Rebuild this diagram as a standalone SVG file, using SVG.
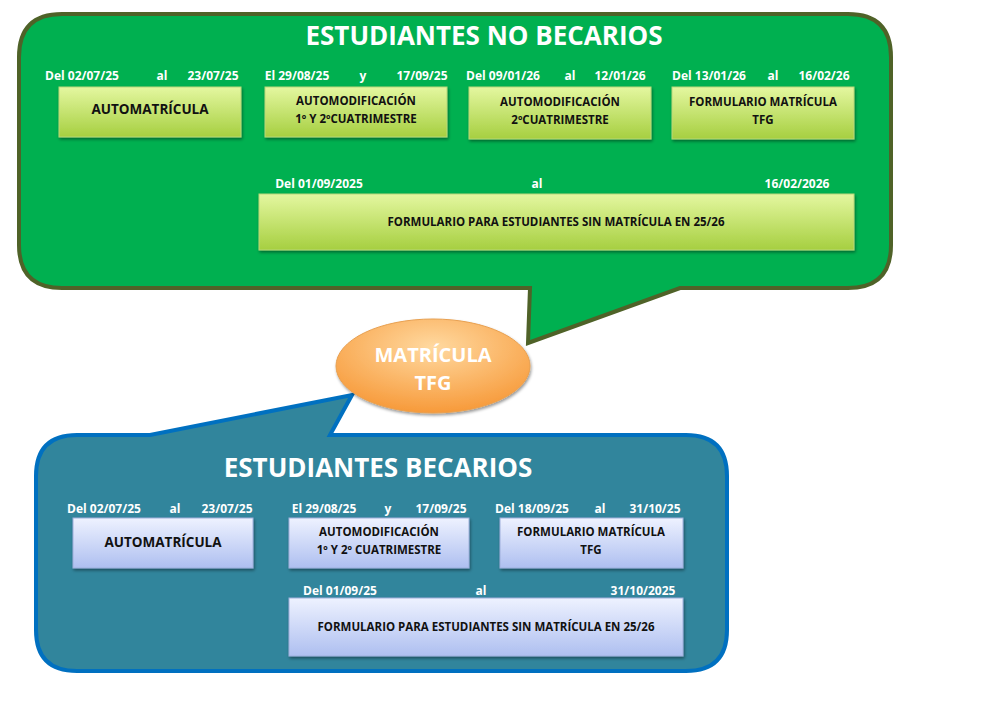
<svg xmlns="http://www.w3.org/2000/svg" width="1000" height="707" viewBox="0 0 1000 707">
<defs>
<linearGradient id="gg" x1="0" y1="0" x2="0" y2="1"><stop offset="0" stop-color="#e4f7a0"/><stop offset="1" stop-color="#a6cf40"/></linearGradient>
<linearGradient id="bg" x1="0" y1="0" x2="0" y2="1"><stop offset="0" stop-color="#eef2ff"/><stop offset="1" stop-color="#aebff0"/></linearGradient>
<radialGradient id="og" cx="0.5" cy="0.3" r="0.7"><stop offset="0" stop-color="#ffd9a0"/><stop offset="1" stop-color="#f79a3a"/></radialGradient>
<filter id="sh" x="-10%" y="-10%" width="120%" height="130%"><feDropShadow dx="1" dy="2" stdDeviation="1.5" flood-opacity="0.4"/></filter>
</defs>
<style>
text{font-family:"Open Sans","Liberation Sans",sans-serif;font-weight:bold;text-anchor:middle}
.d{fill:#fff;font-size:12px}
.t{fill:#111;font-size:11.5px}
.gb{fill:url(#gg);stroke:#b9d77a;stroke-width:1;filter:url(#sh)}
.bb{fill:url(#bg);stroke:#9fb0dc;stroke-width:1;filter:url(#sh)}
</style>
<rect width="1000" height="707" fill="#fff"/>
<g id="green">
<path d="M62,14 H848 Q891,14 891,57 V245 Q891,288 848,288 H680 L528,343 L530,288 H62 Q19,288 19,245 V57 Q19,14 62,14 Z" fill="#00b050" stroke="#4f6228" stroke-width="4"/>
<text x="484" y="45" style="fill:#fff;font-size:26px">ESTUDIANTES NO BECARIOS</text>
</g>
<g id="g1"><text class="d" x="82" y="80">Del 02/07/25</text><text class="d" x="162" y="80">al</text><text class="d" x="213" y="80">23/07/25</text>
<rect class="gb" x="59" y="87" width="182" height="50"/><text class="t" x="150" y="114" style="font-size:13.5px">AUTOMATRÍCULA</text></g>
<g id="g2"><text class="d" x="297" y="80">El 29/08/25</text><text class="d" x="363" y="80">y</text><text class="d" x="422" y="80">17/09/25</text>
<rect class="gb" x="265" y="87" width="182" height="50"/><text class="t" x="356" y="105">AUTOMODIFICACIÓN</text><text class="t" x="356" y="123">1º Y 2ºCUATRIMESTRE</text></g>
<g id="g3"><text class="d" x="503" y="80">Del 09/01/26</text><text class="d" x="570" y="80">al</text><text class="d" x="620" y="80">12/01/26</text>
<rect class="gb" x="469" y="87" width="182" height="52"/><text class="t" x="560" y="106">AUTOMODIFICACIÓN</text><text class="t" x="560" y="124">2ºCUATRIMESTRE</text></g>
<g id="g4"><text class="d" x="709" y="80">Del 13/01/26</text><text class="d" x="773" y="80">al</text><text class="d" x="824" y="80">16/02/26</text>
<rect class="gb" x="672" y="87" width="182" height="52"/><text class="t" x="763" y="106">FORMULARIO MATRÍCULA</text><text class="t" x="763" y="124">TFG</text></g>
<g id="g5"><text class="d" x="319" y="188">Del 01/09/2025</text><text class="d" x="537" y="188">al</text><text class="d" x="797" y="188">16/02/2026</text>
<rect class="gb" x="259" y="194" width="595" height="56"/><text class="t" x="556" y="226">FORMULARIO PARA ESTUDIANTES SIN MATRÍCULA EN 25/26</text></g>
<g id="blue">
<path d="M77,435 H150 L352,395 L330,435 H686 Q727,435 727,476 V630 Q727,671 686,671 H77 Q36,671 36,630 V476 Q36,435 77,435 Z" fill="#31859c" stroke="#0070c0" stroke-width="4"/>
<text x="378" y="477" style="fill:#fff;font-size:26px">ESTUDIANTES BECARIOS</text>
</g>
<g id="b1"><text class="d" x="104" y="513">Del 02/07/25</text><text class="d" x="175" y="513">al</text><text class="d" x="227" y="513">23/07/25</text>
<rect class="bb" x="73" y="518" width="180" height="50"/><text class="t" x="163" y="547" style="font-size:13.5px">AUTOMATRÍCULA</text></g>
<g id="b2"><text class="d" x="324" y="513">El  29/08/25</text><text class="d" x="388" y="513">y</text><text class="d" x="441" y="513">17/09/25</text>
<rect class="bb" x="289" y="518" width="180" height="50"/><text class="t" x="379" y="536">AUTOMODIFICACIÓN</text><text class="t" x="379" y="554">1º Y 2º CUATRIMESTRE</text></g>
<g id="b3"><text class="d" x="532" y="513">Del 18/09/25</text><text class="d" x="600" y="513">al</text><text class="d" x="655" y="513">31/10/25</text>
<rect class="bb" x="500" y="518" width="183" height="50"/><text class="t" x="591" y="536">FORMULARIO MATRÍCULA</text><text class="t" x="591" y="554">TFG</text></g>
<g id="b4"><text class="d" x="340" y="595">Del 01/09/25</text><text class="d" x="481" y="595">al</text><text class="d" x="643" y="595">31/10/2025</text>
<rect class="bb" x="289" y="598" width="394" height="58"/><text class="t" x="486" y="631">FORMULARIO PARA ESTUDIANTES SIN MATRÍCULA EN 25/26</text></g>
<g id="center"><ellipse cx="433" cy="366" rx="97" ry="47" fill="url(#og)" stroke="#e8a050" stroke-width="1" filter="url(#sh)"/>
<text x="433" y="362" style="fill:#fff;font-size:20px">MATRÍCULA</text><text x="433" y="390" style="fill:#fff;font-size:20px">TFG</text></g>
</svg>
